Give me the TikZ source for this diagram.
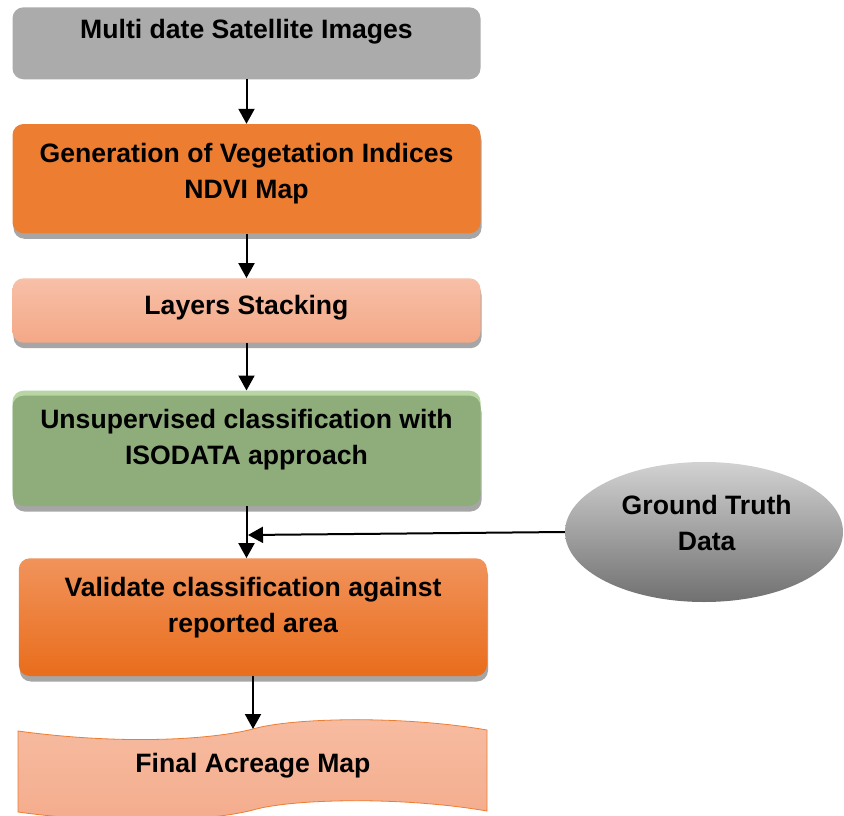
\documentclass[tikz,border=0pt]{standalone}
\usepackage{fontspec}
\setmainfont{Liberation Sans}
\usetikzlibrary{arrows.meta,shapes.geometric}
\definecolor{boxgray}{HTML}{ABABAB}
\definecolor{orng}{HTML}{ED7D31}
\definecolor{lstop}{HTML}{F7C0A8}
\definecolor{lsbot}{HTML}{F4A886}
\definecolor{grn}{HTML}{8FAC7B}
\definecolor{lgrn}{HTML}{B7D6A3}
\definecolor{vtop}{HTML}{F1935B}
\definecolor{vbot}{HTML}{E96D1C}
\definecolor{ftop}{HTML}{F7BCA2}
\definecolor{fbot}{HTML}{F4AC8C}
\definecolor{gtop}{HTML}{D2D2D2}
\definecolor{gbot}{HTML}{707070}
\definecolor{shad}{HTML}{A6A6A6}
\begin{document}
\begin{tikzpicture}[x=1pt,y=-1pt,
  box/.style={rectangle, rounded corners=11pt, draw=none, inner sep=0pt, minimum width=468pt},
  shadowed/.style={preaction={fill=shad, transform canvas={shift={(1pt,-5.5pt)}}}},
  greentop/.style={preaction={fill=lgrn, transform canvas={yshift=5pt}}},
  lbl/.style={font=\bfseries\fontsize{26.6}{36}\selectfont, align=center, inner sep=0pt},
  arr/.style={line width=2pt, -{Triangle[width=16pt,length=15pt]}}
]
\fill[white] (0,0) rectangle (844,816);
\useasboundingbox (0,0) rectangle (844,816);

% boxes
\node[box, fill=boxgray, minimum height=72pt] (b1) at (246.5,43.3) {};
\node[box, shadowed, fill=orng, minimum height=109.3pt] (b2) at (246.5,178.65) {};
\node[box, shadowed, top color=lstop, bottom color=lsbot, minimum height=64.4pt] (b3) at (246.5,310.5) {};
\node[box, shadowed, greentop, fill=grn, minimum height=110.3pt] (b4) at (246.5,450.85) {};
\node[box, shadowed, top color=vtop, bottom color=vbot, minimum height=117.7pt, minimum width=468.2pt] (b5) at (252.9,617.15) {};

% tape shape
\path[top color=ftop, bottom color=fbot, draw=orng, line width=0.8pt]
  (18,731) .. controls (120,745) and (210,740) .. (253,729)
  .. controls (290,718) and (400,715) .. (487,730)
  -- (487,811) .. controls (400,796) and (290,799) .. (253,810)
  .. controls (210,821) and (120,826) .. (18,812) -- cycle;
\coordinate (ft) at (253,729);

% ellipse
\node[ellipse, inner sep=0pt, minimum width=278pt, minimum height=140pt, top color=gtop, bottom color=gbot] (gt) at (704,532) {};

% labels
\node[lbl, anchor=base] (t1) at (246.5,38.5) {Multi date Satellite Images};
\node[lbl] (t2) at (246.5,173.5) {Generation of Vegetation Indices\\NDVI Map};
\node[lbl, anchor=base] (t3) at (246.5,314) {Layers Stacking};
\node[lbl] (t4) at (246.5,439.3) {Unsupervised classification with\\ISODATA approach};
\node[lbl] (t5) at (253,607.7) {Validate classification against\\reported area};
\node[lbl, anchor=base] (t6) at (253,772) {Final Acreage Map};
\node[lbl] (t7) at (706.7,523.3) {Ground Truth\\Data};

% connectors
\coordinate (j) at (248,535);
\draw[arr] (b1.south) -- (b2.north);
\draw[arr] (b2.south) -- (b3.north);
\draw[arr] (b3.south) -- ([yshift=5pt]b4.north);
\draw[arr] (b4.south) -- (b4.south |- b5.north);
\draw[arr] (gt.west) -- (j);
\draw[arr] (b5.south -| ft) -- (ft);
\end{tikzpicture}
\end{document}
